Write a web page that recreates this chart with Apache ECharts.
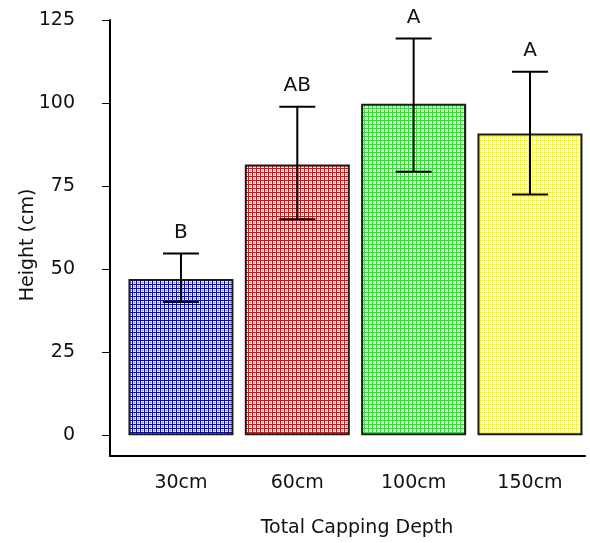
<!DOCTYPE html>
<html>
<head>
<meta charset="utf-8">
<script src="https://cdn.jsdelivr.net/npm/echarts@6/dist/echarts.min.js"></script>
<style>
html,body{margin:0;padding:0;background:#fff;}
#chart{width:590px;height:543px;}
</style>
</head>
<body>
<div id="chart"></div>
<script>
const categories = ['30cm', '60cm', '100cm', '150cm'];
const means = [47.0, 81.5, 99.8, 90.8];
const upper = [54.7, 98.9, 119.4, 109.4];
const lower = [40.1, 65.0, 79.3, 72.5];
const letters = ['B', 'AB', 'A', 'A'];
const barColors = ['#0000ff', '#ff0000', '#00ff00', '#ffff00'];
const yTicks = [0, 25, 50, 75, 100, 125];

function makePattern(color) {
  const n = 4;
  const c = document.createElement('canvas');
  c.width = n; c.height = n;
  const ctx = c.getContext('2d');
  ctx.fillStyle = '#ffffff';
  ctx.fillRect(0, 0, n, n);
  ctx.globalAlpha = 0.25;
  ctx.fillStyle = color;
  ctx.fillRect(2, 0, 1, n);
  ctx.fillRect(0, 2, n, 1);
  ctx.globalAlpha = 1;
  ctx.fillRect(0, 0, 1, n);
  ctx.fillRect(0, 0, n, 1);
  return c;
}

const font = 'DejaVu Sans, sans-serif';
const chart = echarts.init(document.getElementById('chart'));

const barData = categories.map((c, i) => ({
  value: [i, means[i]],
  itemStyle: {
    color: { image: makePattern(barColors[i]), repeat: 'repeat' },
    borderColor: '#1a1a1a',
    borderWidth: 2
  }
}));

const errData = categories.map((c, i) => [i, lower[i], upper[i]]);

chart.setOption({
  animation: false,
  backgroundColor: '#fff',
  grid: { left: 110, right: 5, top: 20, bottom: 86 },
  xAxis: {
    type: 'value',
    min: -0.61,
    max: 3.473,
    splitLine: { show: false },
    axisLine: { show: true, onZero: false, lineStyle: { color: '#000', width: 2 } },
    axisTick: { show: false },
    axisLabel: {
      customValues: [0, 1, 2, 3],
      formatter: v => categories[Math.round(v)],
      color: '#111', fontSize: 19, fontFamily: font, margin: 18
    },
    name: 'Total Capping Depth',
    nameLocation: 'middle',
    nameMoveOverlap: false,
    nameGap: 63,
    nameTextStyle: { color: '#111', fontSize: 19, fontFamily: font, padding: [0, 0, 0, 19] }
  },
  yAxis: {
    type: 'value',
    min: -6.25,
    max: 125,
    splitLine: { show: false },
    axisLine: { show: true, onZero: false, lineStyle: { color: '#000', width: 2 } },
    axisTick: { show: true, customValues: yTicks, length: 8, lineStyle: { color: '#000', width: 1 } },
    axisLabel: {
      customValues: yTicks,
      color: '#111', fontSize: 19, fontFamily: font, margin: 35
    },
    name: 'Height (cm)',
    nameLocation: 'middle',
    nameMoveOverlap: false,
    nameGap: 72,
    nameTextStyle: { color: '#111', fontSize: 19, fontFamily: font, padding: [0, 14, 0, 0] }
  },
  series: [
    {
      type: 'bar',
      data: barData,
      barWidth: 105
    },
    {
      type: 'custom',
      data: errData,
      renderItem: function (params, api) {
        const x = api.value(0);
        const lo = api.coord([x, api.value(1)]);
        const hi = api.coord([x, api.value(2)]);
        const half = 18;
        const style = { stroke: '#000', lineWidth: 2 };
        return {
          type: 'group',
          children: [
            { type: 'line', shape: { x1: lo[0], y1: lo[1], x2: hi[0], y2: hi[1] }, style: style },
            { type: 'line', shape: { x1: hi[0] - half, y1: hi[1], x2: hi[0] + half, y2: hi[1] }, style: style },
            { type: 'line', shape: { x1: lo[0] - half, y1: lo[1], x2: lo[0] + half, y2: lo[1] }, style: style },
            { type: 'text', style: {
                text: letters[params.dataIndex], x: hi[0], y: hi[1] - 21,
                align: 'center', verticalAlign: 'middle',
                fill: '#111', fontSize: 20, fontFamily: font
              } }
          ]
        };
      },
      z: 5
    }
  ]
});
</script>
</body>
</html>
